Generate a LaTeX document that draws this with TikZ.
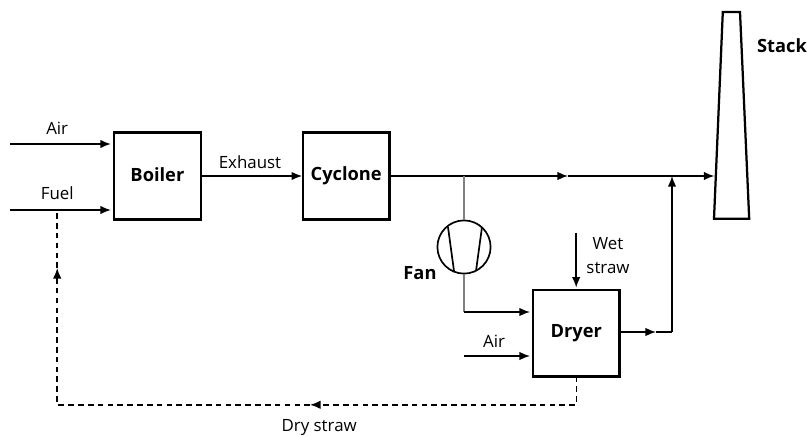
\documentclass[tikz,border=0pt]{standalone}
\usepackage{fontspec}
\setmainfont{Open Sans}
\usetikzlibrary{positioning,arrows.meta}
\tikzset{node distance=2cm, >={Latex[length=7.5pt,width=6pt]}}
\tikzset{unit/.style={draw, line width=1.6pt, minimum size=2.17cm, inner sep=0pt, outer sep=0pt, font=\fontsize{13}{15}\selectfont\bfseries}}
\tikzset{flow/.style={line width=1pt}}
\tikzset{dry/.style={line width=1pt, dash pattern=on 4pt off 3pt}}
\tikzset{fanline/.style={line width=0.8pt, gray}}
\tikzset{lbl/.style={inner sep=0pt, font=\fontsize{12}{17}\selectfont}}
\tikzset{bold/.style={inner sep=0pt, font=\fontsize{13}{15}\selectfont\bfseries}}

\begin{document}
\begin{tikzpicture}
\useasboundingbox (0,0) rectangle (20.2,10.9);
\node[unit] (boiler) at (3.935,6.5) {\raisebox{2pt}{Boiler}};
\node[unit] (cyclone) [right=2.55cm of boiler] {Cyclone};
\node[unit] (dryer) [below right=1.76cm and 3.58cm of cyclone] {Dryer};
\node[circle, draw, line width=1.2pt, minimum size=1.33cm, inner sep=0pt, outer sep=0pt] (fan) at (11.6,4.725) {};
\node[bold] (fantxt) at (10.5,4.07) {Fan};
\node[bold] (stacktxt) at (19.55,9.75) {Stack};

% stack
\coordinate (stl) at (18.07,10.6);
\coordinate (str) at (18.5,10.6);
\coordinate (sbr) at (18.73,5.43);
\coordinate (sbl) at (17.85,5.43);
\draw[line width=1.6pt] (stl) -- (str) -- (sbr) -- (sbl) -- cycle;

% fan blades
\coordinate (bl1) at ([shift={(-0.4,0.5)}]fan.center);
\coordinate (bl2) at ([shift={(-0.25,-0.6)}]fan.center);
\coordinate (br1) at ([shift={(0.45,0.5)}]fan.center);
\coordinate (br2) at ([shift={(0.3,-0.6)}]fan.center);
\draw[line width=1.2pt] (bl1) -- (bl2);
\draw[line width=1.2pt] (br1) -- (br2);

% inlets of the boiler
\coordinate (airin) at (0.25,7.3);
\coordinate (airend) at (boiler.west |- airin);
\coordinate (fuelin) at (0.25,5.65);
\coordinate (fuelend) at (boiler.west |- fuelin);
\draw[->,flow,shorten >=2.2pt] (airin) -- (airend);
\draw[->,flow,shorten >=2.2pt] (fuelin) -- (fuelend);
\node[lbl] (airtxt) at (1.43,7.7) {Air};
\node[lbl] (fueltxt) at (1.43,6.06) {Fuel};

\draw[->,flow,shorten >=0.5pt] (boiler) to (cyclone);
\node[lbl] (exhausttxt) at (6.25,6.85) {Exhaust};

% main line to the stack
\coordinate (tee) at (fan |- cyclone.east);
\coordinate (mainmid) at (14.2,6.5);
\coordinate (riser) at (16.8,6.5);
\coordinate (stackin) at (17.86,6.5);
\draw[->,flow] (cyclone.east) -- (mainmid);
\draw[flow] (mainmid) -- (riser);
\draw[->,flow] (riser) -- (stackin);

% fan branch
\coordinate (fancorner) at (fan |- 0,3.1);
\coordinate (fanend) at (dryer.west |- fancorner);
\draw[fanline] (tee) -- (fan.north);
\draw[fanline] (fan.south) -- (fancorner);
\draw[->,flow,shorten >=2pt] (fancorner) -- (fanend);

% dryer
\coordinate (wetin) at (dryer.north |- 0,5.08);
\draw[->,line width=1.2pt,shorten >=1.5pt] (wetin) -- (dryer.north);
\node[lbl, align=center] (wettxt) at (15.2,4.5) {Wet\\straw};
\coordinate (airdry) at (11.6,2);
\coordinate (airdryend) at (dryer.west |- airdry);
\draw[->,flow,shorten >=2pt] (airdry) -- (airdryend);
\node[lbl] (airdrytxt) at (12.35,2.37) {Air};

\coordinate (outmid) at (16.4,2.6);
\coordinate (outcorner) at (riser |- outmid);
\draw[->,flow] (dryer.east |- outmid) -- (outmid);
\draw[flow] (outmid) -- (outcorner);
\draw[->,flow] (outcorner) -- (riser);

% dry straw back to the fuel line
\coordinate (drya) at (dryer.south |- 0,0.78);
\coordinate (drymid) at (7.75,0.78);
\coordinate (dryb) at (1.43,0.78);
\coordinate (dryup) at (1.43,4.2);
\draw[->,dry] (dryer.south) -- (drya) -- (drymid);
\draw[->,dry] (drymid) -- (dryb) -- (dryup);
\draw[dry] (dryup) -- (dryb |- fuelin);
\node[lbl] (drytxt) at (7.98,0.2) {Dry straw};
\end{tikzpicture}
\end{document}
